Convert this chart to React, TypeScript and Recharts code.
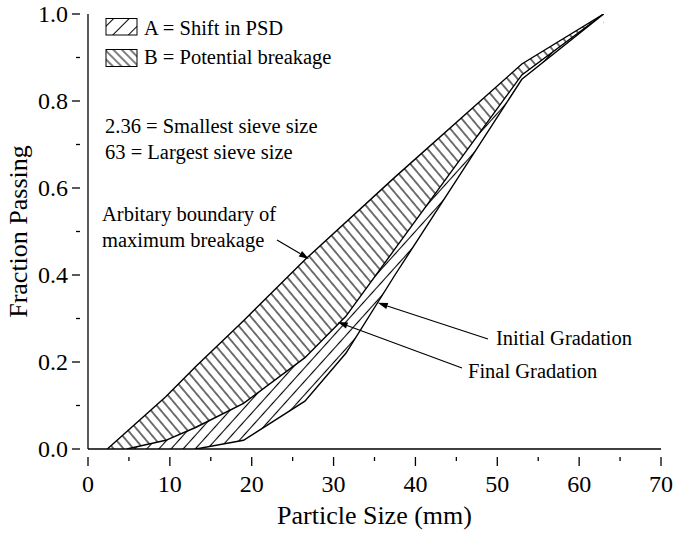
import React from "react";
import {
  ComposedChart,
  Area,
  XAxis,
  YAxis,
  ReferenceLine,
} from "recharts";

// ---------------- DATA ----------------
const boundarySize = [2.36, 4.75, 9.5, 13.2, 19, 26.5, 37.5, 53, 63];
const boundaryPassing = [0, 0.04, 0.12, 0.19, 0.295, 0.435, 0.625, 0.885, 1.0];

const finalSize = [4.75, 9.5, 13.2, 19, 26.5, 31.5, 37.5, 53, 63];
const finalPassing = [0, 0.02, 0.05, 0.105, 0.21, 0.305, 0.46, 0.86, 1.0];

const initialSize = [13.2, 19, 26.5, 31.5, 37.5, 53, 63];
const initialPassing = [0, 0.02, 0.11, 0.22, 0.4, 0.85, 1.0];

const xTicks = [0, 5, 10, 15, 20, 25, 30, 35, 40, 45, 50, 55, 60, 65, 70];
const yTicks = [0, 0.1, 0.2, 0.3, 0.4, 0.5, 0.6, 0.7, 0.8, 0.9, 1.0];
const xLabeled = [0, 10, 20, 30, 40, 50, 60, 70];
const yLabeled = [0, 0.2, 0.4, 0.6, 0.8, 1.0];

const legendItems = ["A = Shift in PSD", "B = Potential breakage"];
const noteLines = ["2.36 = Smallest sieve size", "63 = Largest sieve size"];
const boundaryNote = ["Arbitary boundary of", "maximum breakage"];
const initialLabel = "Initial Gradation";
const finalLabel = "Final Gradation";

// arrow targets in data units (size, passing)
const arrowBoundary = { x: 27.0, y: 0.437 };
const arrowInitial = { x: 35.4, y: 0.336 };
const arrowFinal = { x: 30.5, y: 0.292 };

const toRows = (xs: number[], ys: number[]) =>
  xs.map((x, i) => ({ x, y: ys[i] }));

const boundaryData = toRows(boundarySize, boundaryPassing);
const finalData = toRows(finalSize, finalPassing);
const initialData = toRows(initialSize, initialPassing);

// ---------------- LAYOUT ----------------
const W = 674;
const H = 535;
const LEFT = 88;
const TOP = 14;
const RIGHT = 13;
const BOTTOM = 86;
const PW = W - LEFT - RIGHT;
const PH = H - TOP - BOTTOM;
const X_MAX = 70;
const sx = (v: number) => LEFT + (v / X_MAX) * PW;
const sy = (v: number) => TOP + PH - v * PH;

const FONT = "'Liberation Serif', 'Times New Roman', serif";

const XTick = (props: any) => {
  const { x, y, payload } = props;
  const v = payload.value;
  const major = xLabeled.some((t) => Math.abs(t - v) < 1e-6);
  return (
    <g>
      <line x1={x} x2={x} y1={y} y2={y + (major ? 9 : 4)} stroke="#000" strokeWidth={1.3} />
      {major && (
        <text x={x} y={y + 35} textAnchor="middle" fontSize={24} fontFamily={FONT} fill="#000">
          {String(v)}
        </text>
      )}
    </g>
  );
};

const YTick = (props: any) => {
  const { x, y, payload } = props;
  const v = payload.value;
  const major = yLabeled.some((t) => Math.abs(t - v) < 1e-6);
  return (
    <g>
      <line x1={x} x2={x - (major ? 8 : 4)} y1={y} y2={y} stroke="#000" strokeWidth={1.3} />
      {major && (
        <text x={x - 12} y={y + 8} textAnchor="end" fontSize={24} fontFamily={FONT} fill="#000">
          {v.toFixed(1)}
        </text>
      )}
    </g>
  );
};

const Arrow = ({ x1, y1, x2, y2 }: { x1: number; y1: number; x2: number; y2: number }) => {
  const ang = Math.atan2(y2 - y1, x2 - x1);
  const L = 10;
  const w = 3.2;
  const bx = x2 - L * Math.cos(ang);
  const by = y2 - L * Math.sin(ang);
  const px = -Math.sin(ang) * w;
  const py = Math.cos(ang) * w;
  return (
    <g>
      <line x1={x1} y1={y1} x2={bx} y2={by} stroke="#000" strokeWidth={1.2} />
      <polygon
        points={`${x2},${y2} ${bx + px},${by + py} ${bx - px},${by - py}`}
        fill="#000"
      />
    </g>
  );
};

export default function App() {
  return (
    <div style={{ position: "absolute", left: 0, top: 0, width: W, height: H, background: "#fff" }}>
      <ComposedChart
        width={W}
        height={H}
        margin={{ top: TOP, right: RIGHT, left: 0, bottom: 0 }}
        style={{ fontFamily: FONT }}
      >
        <defs>
          <pattern id="hatchB" patternUnits="userSpaceOnUse" width={7.6} height={20} patternTransform="rotate(-40)">
            <rect x={0} y={0} width={7.6} height={20} fill="#fff" />
            <line x1={3.8} y1={0} x2={3.8} y2={20} stroke="#000" strokeWidth={1.1} />
          </pattern>
          <pattern id="hatchA" patternUnits="userSpaceOnUse" width={9} height={20} patternTransform="rotate(42)">
            <rect x={0} y={0} width={9} height={20} fill="#fff" />
            <line x1={4.5} y1={0} x2={4.5} y2={20} stroke="#000" strokeWidth={1.1} />
          </pattern>
        </defs>
        <XAxis
          dataKey="x"
          type="number"
          domain={[0, X_MAX]}
          ticks={xTicks}
          interval={0}
          allowDataOverflow
          height={BOTTOM}
          axisLine={{ stroke: "#000", strokeWidth: 1.3 }}
          tickLine={false}
          tick={<XTick />}
        />
        <XAxis
          xAxisId="top"
          orientation="top"
          type="number"
          domain={[0, X_MAX]}
          height={0}
          tick={false}
          tickLine={false}
          axisLine={{ stroke: "#000", strokeWidth: 1.3 }}
        />
        <YAxis
          type="number"
          domain={[0, 1]}
          ticks={yTicks}
          interval={0}
          allowDataOverflow
          width={LEFT}
          axisLine={{ stroke: "#000", strokeWidth: 1.3 }}
          tickLine={false}
          tick={<YTick />}
        />
        <YAxis
          yAxisId="right"
          orientation="right"
          type="number"
          domain={[0, 1]}
          width={0}
          tick={false}
          tickLine={false}
          axisLine={{ stroke: "#000", strokeWidth: 1.3 }}
        />
        <Area
          data={boundaryData}
          dataKey="y"
          type="linear"
          fill="url(#hatchB)"
          fillOpacity={1}
          stroke="#000"
          strokeWidth={1.4}
          dot={false}
          activeDot={false}
          isAnimationActive={false}
        />
        <Area
          data={finalData}
          dataKey="y"
          type="linear"
          fill="url(#hatchA)"
          fillOpacity={1}
          stroke="#000"
          strokeWidth={1.4}
          dot={false}
          activeDot={false}
          isAnimationActive={false}
        />
        <Area
          data={initialData}
          dataKey="y"
          type="linear"
          fill="#fff"
          fillOpacity={1}
          stroke="#000"
          strokeWidth={1.4}
          dot={false}
          activeDot={false}
          isAnimationActive={false}
        />
        <ReferenceLine
          segment={[{ x: 63, y: 0.003 }, { x: 63, y: 0.975 }]}
          stroke="#fff"
          strokeWidth={2}
          ifOverflow="visible"
        />
      </ComposedChart>
      <svg
        width={W}
        height={H}
        style={{ position: "absolute", left: 0, top: 0, pointerEvents: "none" }}
        fontFamily={FONT}
      >
        <defs>
          <pattern id="legA" patternUnits="userSpaceOnUse" width={11} height={30} patternTransform="rotate(45)">
            <rect width={11} height={30} fill="#fff" />
            <line x1={5.5} y1={0} x2={5.5} y2={30} stroke="#000" strokeWidth={1} />
          </pattern>
          <pattern id="legB" patternUnits="userSpaceOnUse" width={6} height={30} patternTransform="rotate(-45)">
            <rect width={6} height={30} fill="#fff" />
            <line x1={3} y1={0} x2={3} y2={30} stroke="#000" strokeWidth={1} />
          </pattern>
        </defs>
        {/* legend */}
        <rect x={106} y={18.5} width={31} height={16.5} fill="url(#legA)" stroke="#000" strokeWidth={1} />
        <text x={144} y={35} fontSize={20.5} fill="#000">{legendItems[0]}</text>
        <rect x={106} y={49.5} width={31} height={17} fill="url(#legB)" stroke="#000" strokeWidth={1} />
        <text x={144} y={64} fontSize={20.5} fill="#000">{legendItems[1]}</text>

        {/* notes */}
        <text x={105} y={133} fontSize={20.5} fill="#000">{noteLines[0]}</text>
        <text x={105} y={159} fontSize={20.5} fill="#000">{noteLines[1]}</text>

        <text x={102} y={221} fontSize={20.5} fill="#000">{boundaryNote[0]}</text>
        <text x={102} y={247} fontSize={20.5} fill="#000">{boundaryNote[1]}</text>
        <Arrow x1={277} y1={240} x2={sx(arrowBoundary.x)} y2={sy(arrowBoundary.y)} />

        <text x={496} y={345} fontSize={20.5} fill="#000">{initialLabel}</text>
        <Arrow x1={488} y1={339} x2={sx(arrowInitial.x)} y2={sy(arrowInitial.y)} />

        <text x={468} y={378} fontSize={20.5} fill="#000">{finalLabel}</text>
        <Arrow x1={462} y1={368} x2={sx(arrowFinal.x)} y2={sy(arrowFinal.y)} />

        {/* axis titles */}
        <text x={LEFT + PW / 2} y={524} textAnchor="middle" fontSize={26} fill="#000">
          Particle Size (mm)
        </text>
        <text
          x={0}
          y={0}
          transform={`translate(27, ${TOP + PH / 2}) rotate(-90)`}
          textAnchor="middle"
          fontSize={26}
          fill="#000"
        >
          Fraction Passing
        </text>
      </svg>
    </div>
  );
}
